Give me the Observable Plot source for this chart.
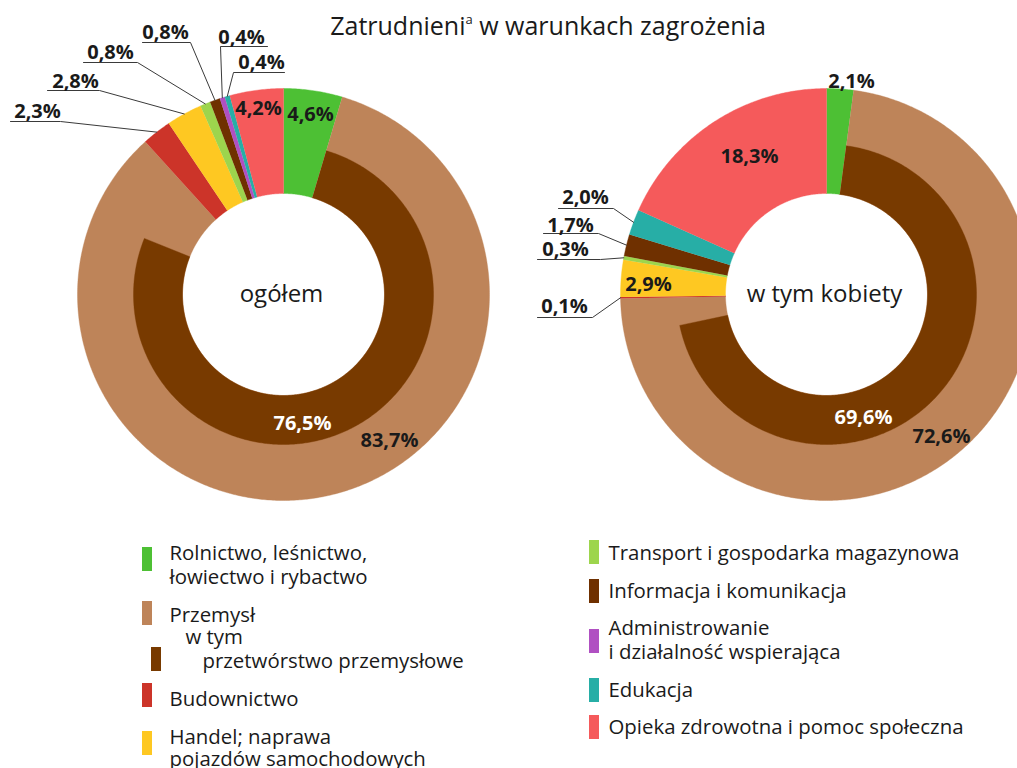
<!DOCTYPE html>
<html>
<head>
<meta charset="utf-8">
<script src="https://cdn.jsdelivr.net/npm/d3@7"></script>
<script src="https://cdn.jsdelivr.net/npm/@observablehq/plot@0.6"></script>
<style>
  body { margin: 0; background: #fff; }
  #wrap { position: relative; width: 1017px; height: 768px; overflow: hidden; font-family: "Open Sans", sans-serif; }
  #wrap svg { position: absolute; left: 0; top: 0; }
  #title { position: absolute; top: 8px; left: 548px; transform: translateX(-50%); white-space: nowrap;
           font-size: 25px; line-height: normal; color: #1a1a1a; font-family: "Open Sans", sans-serif; z-index: 2; }
  #title sup { font-size: 13px; vertical-align: 0; position: relative; top: -11px; }
</style>
</head>
<body>
<div id="wrap"><div id="title">Zatrudnieni<sup>a</sup> w warunkach zagrożenia</div></div>
<script>
// ---------- DATA ----------
const categories = [
  "Rolnictwo, leśnictwo, łowiectwo i rybactwo",
  "Przemysł",
  "Budownictwo",
  "Handel; naprawa pojazdów samochodowych",
  "Transport i gospodarka magazynowa",
  "Informacja i komunikacja",
  "Administrowanie i działalność wspierająca",
  "Edukacja",
  "Opieka zdrowotna i pomoc społeczna"
];
const subCategory = "przetwórstwo przemysłowe";
const ogolem  = [4.6, 83.7, 2.3, 2.8, 0.8, 0.8, 0.4, 0.4, 4.2];
const kobiety = [2.1, 72.6, 0.1, 2.9, 0.3, 1.7, 0.0, 2.0, 18.3];
const przetworstwo = [76.5, 69.6];           // ogółem, kobiety
const chartNames = ["ogółem", "w tym kobiety"];
const series = [ogolem, kobiety];

// ---------- STYLE / LAYOUT ----------
const colors = ["#4dc034", "#be8459", "#cc3429", "#fec822", "#9dd54d", "#6f3000", "#b050c2", "#27aea6", "#f55a5b"];
const subColor = "#783a00";
const W = 1017, H = 768;
const centers = [[283, 294], [826, 294]];
const rHole = 101, rOuter = 206, rSub = 150;

const fmt = v => v.toFixed(1).replace(".", ",") + "%";

// polygon points of a ring segment (values in percent of full circle)
function ring(cx, cy, p0, p1, r0, r1) {
  const n = Math.max(2, Math.ceil((p1 - p0) * 7.2));
  const pts = [];
  for (let i = 0; i <= n; i++) {
    const t = (p0 + (p1 - p0) * i / n) / 100 * 2 * Math.PI;
    pts.push([cx + r1 * Math.sin(t), cy - r1 * Math.cos(t)]);
  }
  for (let i = n; i >= 0; i--) {
    const t = (p0 + (p1 - p0) * i / n) / 100 * 2 * Math.PI;
    pts.push([cx + r0 * Math.sin(t), cy - r0 * Math.cos(t)]);
  }
  return pts;
}
function polar(cx, cy, p, r) {
  const t = p / 100 * 2 * Math.PI;
  return [cx + r * Math.sin(t), cy - r * Math.cos(t)];
}

// outer segments
const segRows = [];
const mids = [[], []];
series.forEach((vals, c) => {
  const [cx, cy] = centers[c];
  let acc = 0;
  vals.forEach((v, k) => {
    mids[c][k] = acc + v / 2;
    if (v > 0) {
      ring(cx, cy, acc, acc + v, rHole, rOuter).forEach(([x, y]) =>
        segRows.push({id: `${c}-${k}`, category: categories[k], x, y}));
    }
    acc += v;
  });
});
// inner ring: przetwórstwo przemysłowe (starts where Przemysł starts)
const subRows = [];
series.forEach((vals, c) => {
  const [cx, cy] = centers[c];
  const start = vals[0];
  ring(cx, cy, start, start + przetworstwo[c], rHole, rSub).forEach(([x, y]) =>
    subRows.push({id: `sub-${c}`, category: subCategory, x, y}));
});

// labels placed on/near segments (layout positions: text centre x, baseline y)
const inLabels = [
  {c: 0, k: 0, x: 310, y: 120, fill: "#1a1a1a"},
  {c: 0, k: 8, x: 258, y: 114, fill: "#1a1a1a"},
  {c: 0, k: 1, x: 389, y: 446, fill: "#1a1a1a"},
  {c: 0, k: "sub", x: 302, y: 429, fill: "#ffffff"},
  {c: 1, k: 0, x: 851, y: 87, fill: "#1a1a1a"},
  {c: 1, k: 8, x: 749, y: 162, fill: "#1a1a1a"},
  {c: 1, k: 3, x: 648, y: 290, fill: "#1a1a1a"},
  {c: 1, k: 1, x: 941, y: 442, fill: "#1a1a1a"},
  {c: 1, k: "sub", x: 863, y: 423, fill: "#ffffff"}
].map(d => ({...d, text: fmt(d.k === "sub" ? przetworstwo[d.c] : series[d.c][d.k])}));

// labels with leader lines: text centre x, baseline y, underline [u0,u1] at uy, elbow side
const leaderLayout = [
  {c: 0, k: 2, x: 37,  y: 117, u0: 10,  u1: 60,  uy: 121, elbow: "end"},
  {c: 0, k: 3, x: 75,  y: 87,  u0: 47,  u1: 99,  uy: 90,  elbow: "end"},
  {c: 0, k: 4, x: 110, y: 58,  u0: 83,  u1: 137, uy: 62,  elbow: "end"},
  {c: 0, k: 5, x: 165, y: 38,  u0: 142, u1: 190, uy: 42,  elbow: "end"},
  {c: 0, k: 6, x: 241, y: 43,  u0: 220, u1: 267, uy: 46,  elbow: "start"},
  {c: 0, k: 7, x: 261, y: 68,  u0: 233, u1: 284, uy: 72,  elbow: "start"},
  {c: 1, k: 7, x: 585, y: 203, u0: 558, u1: 613, uy: 208, elbow: "end"},
  {c: 1, k: 5, x: 570, y: 231, u0: 543, u1: 598, uy: 233, elbow: "end"},
  {c: 1, k: 4, x: 565, y: 255, u0: 537, u1: 600, uy: 259, elbow: "end"},
  {c: 1, k: 2, x: 564, y: 312, u0: 537, u1: 592, uy: 317, elbow: "end"}
];
const leaderText = leaderLayout.map(d => ({x: d.x, y: d.y, text: fmt(series[d.c][d.k])}));
const leaderRows = [];
leaderLayout.forEach((d, i) => {
  const [cx, cy] = centers[d.c];
  const [sx, sy] = polar(cx, cy, mids[d.c][d.k], rOuter);
  const pts = d.elbow === "end"
    ? [[d.u0, d.uy], [d.u1, d.uy], [sx, sy]]
    : [[d.u1, d.uy], [d.u0, d.uy], [sx, sy]];
  pts.forEach(([x, y]) => leaderRows.push({id: i, x, y}));
});

// chart centre names
const nameRows = chartNames.map((t, c) => ({x: centers[c][0] - 2, y: 301, text: t}));

// legend
const legendSwatches = [
  {cat: categories[0], x: 142, y: 547},
  {cat: categories[1], x: 142, y: 601},
  {cat: subCategory,   x: 151, y: 647},
  {cat: categories[2], x: 142, y: 683},
  {cat: categories[3], x: 142, y: 731},
  {cat: categories[4], x: 589, y: 540},
  {cat: categories[5], x: 589, y: 579},
  {cat: categories[6], x: 589, y: 629},
  {cat: categories[7], x: 589, y: 678},
  {cat: categories[8], x: 589, y: 715}
];
const legendLines = [
  {x: 169, y: 559, text: "Rolnictwo, leśnictwo,"},
  {x: 169, y: 583, text: "łowiectwo i rybactwo"},
  {x: 169, y: 621, text: "Przemysł"},
  {x: 185, y: 643, text: "w tym"},
  {x: 202, y: 667, text: subCategory},
  {x: 169, y: 705, text: "Budownictwo"},
  {x: 169, y: 743, text: "Handel; naprawa"},
  {x: 169, y: 765, text: "pojazdów samochodowych"},
  {x: 608, y: 559, text: "Transport i gospodarka magazynowa"},
  {x: 608, y: 597, text: "Informacja i komunikacja"},
  {x: 608, y: 634, text: "Administrowanie"},
  {x: 608, y: 658, text: "i działalność wspierająca"},
  {x: 608, y: 696, text: "Edukacja"},
  {x: 608, y: 733, text: "Opieka zdrowotna i pomoc społeczna"}
];

const chart = Plot.plot({
  width: W, height: H, margin: 0,
  style: {fontFamily: "'Open Sans', sans-serif", background: "#fff", overflow: "hidden"},
  x: {domain: [0, W], range: [0, W], axis: null},
  y: {domain: [0, H], range: [0, H], axis: null},
  color: {domain: [...categories, subCategory], range: [...colors, subColor]},
  marks: [
    Plot.line(segRows, {x: "x", y: "y", z: "id", fill: "category", stroke: "category", strokeWidth: 0.4, curve: "linear"}),
    Plot.line(subRows, {x: "x", y: "y", z: "id", fill: "category", stroke: "category", strokeWidth: 0.4, curve: "linear"}),
    Plot.line(leaderRows, {x: "x", y: "y", z: "id", stroke: "#3a3a3a", strokeWidth: 1, curve: "linear"}),
    Plot.text(inLabels, {x: "x", y: "y", text: "text", fill: "fill", fontSize: 20, fontWeight: "bold", lineAnchor: "bottom", textAnchor: "middle"}),
    Plot.text(leaderText, {x: "x", y: "y", text: "text", fill: "#1a1a1a", fontSize: 20, fontWeight: "bold", lineAnchor: "bottom", textAnchor: "middle"}),
    Plot.text(nameRows, {x: "x", y: "y", text: "text", fill: "#1a1a1a", fontSize: 24, lineAnchor: "bottom", textAnchor: "middle"}),
    Plot.rect(legendSwatches, {x1: "x", x2: d => d.x + 10, y1: "y", y2: d => d.y + 24, fill: "cat"}),
    Plot.text(legendLines, {x: "x", y: "y", text: "text", fill: "#1a1a1a", fontSize: 20.4, lineAnchor: "bottom", textAnchor: "start"})
  ]
});
document.getElementById("wrap").appendChild(chart);
</script>
</body>
</html>
